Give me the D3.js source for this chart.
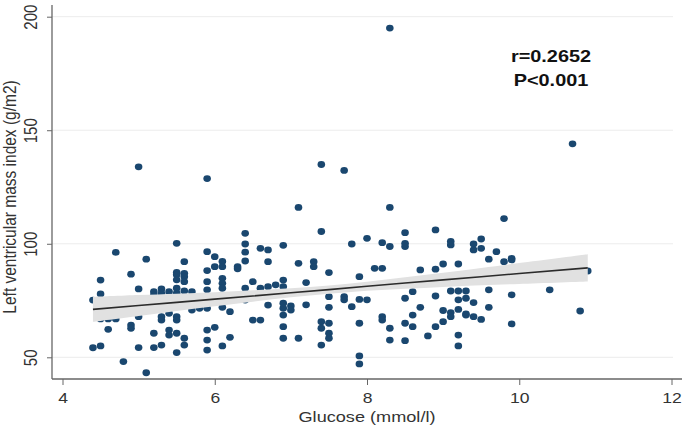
<!DOCTYPE html>
<html><head><meta charset="utf-8">
<script src="https://cdn.jsdelivr.net/npm/d3@7"></script>
<style>html,body{margin:0;padding:0;background:#fff;}svg{display:block;}</style>
</head><body>
<svg id="chart" width="685" height="428"></svg>
<script>
// ---- data ----
const glucoseLevels = [4.4,4.5,4.6,4.7,4.8,4.9,5.0,5.1,5.2,5.3,5.4,5.5,5.6,5.7,5.8,5.9,6.0,6.1,6.2,6.3,6.4,6.5,6.6,6.7,6.8,6.9,7.0,7.1,7.2,7.3,7.4,7.5,7.7,7.8,7.9,8.0,8.1,8.2,8.3,8.5,8.6,8.7,8.8,8.9,9.0,9.1,9.2,9.3,9.4,9.5,9.6,9.7,9.8,9.9,10.4,10.7,10.8,10.9];
const lvmiByLevel = [
  [75.2,54.2],[84.0,77.9,66.9,55.0],[66.9,62.3],[96.2,66.9],[48.1],[86.6,64.2,62.8],
  [133.9,80.1,67.9,54.3],[93.2,43.2],[78.9,77.4,60.6,54.3],[80.1,78.2,67.9,66.4,55.4],
  [78.9,69.4,62.0,59.8],[100.2,87.4,86.3,84.1,80.4,78.2,67.9,66.4,60.6,52.1],
  [92.1,87.0,85.5,83.3,79.2,58.4,55.4],[78.9,70.8],[71.6],
  [128.7,96.5,88.2,83.3,79.7,71.6,62.0,57.6,53.2],[94.3,89.9,63.2],
  [92.2,89.9,84.8,82.6,80.4,72.0,55.0],[70.1,58.8],[89.9,89.0],
  [104.6,99.9,96.3,92.4,80.4,75.2],[83.3,66.4],[98.0,80.4,66.4],[97.3,92.1,81.1,73.0],[81.9],
  [99.3,84.0,81.1,73.8,71.6,68.6,63.5,58.4],[72.6,70.8],[116.0,91.4,58.4],[82.9,73.1],[92.1,89.9],
  [134.9,105.4,65.7,62.8,55.4],[87.3,76.7,72.0,65.0,60.6,58.4],[132.3,76.7,75.3],[99.9,72.3],
  [85.5,75.5,65.0,50.6,47.1],[102.4,75.3],[89.2],[100.5,89.2,67.9,66.4],[195.0,116.0,98.8,62.8,57.6],
  [104.9,100.2,98.8,76.0,65.0,57.3],[78.9,68.6,63.5],[88.5,72.0],[59.4],[106.1,88.8,77.0,63.5],
  [91.1,70.6,65.7],[101.0,99.5,79.2,69.7,67.9],[91.1,79.2,75.3,71.1,59.8,55.0],[79.2,76.0,69.1,68.6],
  [99.9,97.3,74.1,67.9],[102.1,98.0,66.7],[93.2,79.7,72.0],[96.5],[111.1,92.1],[93.6,92.9,77.5,64.7],
  [79.7],[144.0],[70.4],[88.0]
];
// linear fit and 95% CI band
const fitX   = [4.4, 5.0, 5.5, 6.0, 6.5, 7.0, 7.5, 8.0, 8.5, 9.0, 9.5, 10.0, 10.9];
const fitY   = [71.1, 72.8, 74.2, 75.6, 77.0, 78.4, 79.8, 81.3, 82.7, 84.1, 85.5, 86.9, 89.4];
const ciLow  = [65.6, 68.2, 70.4, 72.5, 74.5, 76.4, 78.0, 79.3, 80.2, 81.0, 81.7, 82.3, 83.4];
const ciHigh = [76.6, 77.4, 78.0, 78.7, 79.5, 80.4, 81.6, 83.3, 85.2, 87.2, 89.3, 91.5, 95.4];
const xTicks = [4, 6, 8, 10, 12];
const yTicks = [50, 100, 150, 200];
const xTitle = "Glucose (mmol/l)";
const yTitle = "Left ventricular mass index (g/m2)";
const annot = ["r=0.2652", "P<0.001"];

// ---- build ----
const points = [];
glucoseLevels.forEach((g, i) => lvmiByLevel[i].forEach(v => points.push({g, v})));
const band = fitX.map((x, i) => ({x, y: fitY[i], lo: ciLow[i], hi: ciHigh[i]}));

const svg = d3.select("#chart");
const SX = 1.17; // horizontal stretch of the original picture
const font = "'Liberation Sans', Arial, Helvetica, sans-serif";
const x = d3.scaleLinear().domain([4, 12]).range([62.5, 671.5]);
const y = d3.scaleLinear().domain([50, 200]).range([357.3, 16.7]);
const axisX = 52, axisY = 379;

// gridlines
svg.append("g").selectAll("line").data(yTicks).join("line")
  .attr("x1", axisX).attr("x2", 673).attr("y1", d => y(d)).attr("y2", d => y(d))
  .attr("stroke", "#ececec").attr("stroke-width", 1);

// points
svg.append("g").selectAll("ellipse").data(points).join("ellipse")
  .attr("cx", d => x(d.g)).attr("cy", d => y(d.v)).attr("rx", 3.8).attr("ry", 3.4)
  .attr("fill", "#1a476f");

// CI band
svg.append("path").datum(band)
  .attr("d", d3.area().x(d => x(d.x)).y0(d => y(d.lo)).y1(d => y(d.hi)).curve(d3.curveCatmullRom))
  .attr("fill", "#e1e1e1");
// fit line
svg.append("path").datum(band)
  .attr("d", d3.line().x(d => x(d.x)).y(d => y(d.y)))
  .attr("fill", "none").attr("stroke", "#2b2b2b").attr("stroke-width", 1.6);

// axes
const gx = svg.append("g").attr("transform", `translate(0,${axisY})`)
  .call(d3.axisBottom(x).tickValues(xTicks).tickSize(6).tickSizeOuter(0));
gx.select(".domain").remove();
gx.selectAll(".tick line").attr("stroke", "#666");
gx.selectAll(".tick text").attr("y", null).attr("dy", null)
  .attr("transform", `translate(0,24) scale(${SX},1)`)
  .attr("font-family", font).attr("font-size", 15).attr("fill", "#333").attr("text-anchor", "middle");

const gy = svg.append("g").attr("transform", `translate(${axisX},0)`)
  .call(d3.axisLeft(y).tickValues(yTicks).tickSize(5).tickSizeOuter(0));
gy.select(".domain").remove();
gy.selectAll(".tick line").attr("stroke", "#666");
gy.selectAll(".tick text").attr("x", null).attr("dy", null)
  .attr("transform", `translate(-15,0) scale(${SX},1) rotate(-90)`)
  .attr("font-family", font).attr("font-size", 15).attr("fill", "#333").attr("text-anchor", "middle");

// axis lines
svg.append("line").attr("x1", axisX).attr("x2", axisX).attr("y1", 5).attr("y2", axisY)
  .attr("stroke", "#666").attr("stroke-width", 1.3);
svg.append("line").attr("x1", axisX).attr("x2", 682).attr("y1", axisY).attr("y2", axisY)
  .attr("stroke", "#666").attr("stroke-width", 1.3);

// titles
svg.append("text").text(xTitle)
  .attr("transform", `translate(367,421.5) scale(${SX},1)`)
  .attr("text-anchor", "middle").attr("font-family", font).attr("font-size", 15.5).attr("fill", "#333");
svg.append("text").text(yTitle)
  .attr("transform", `translate(16,197) scale(${SX},1) rotate(-90)`)
  .attr("text-anchor", "middle").attr("font-family", font).attr("font-size", 15.5).attr("fill", "#333");

// annotation
svg.append("g").selectAll("text").data(annot).join("text").text(d => d)
  .attr("transform", (d, i) => `translate(551,${61.7 + i * 24.3}) scale(${SX},1)`)
  .attr("text-anchor", "middle").attr("font-family", font).attr("font-size", 17)
  .attr("font-weight", "bold").attr("fill", "#111");
</script>
</body></html>
